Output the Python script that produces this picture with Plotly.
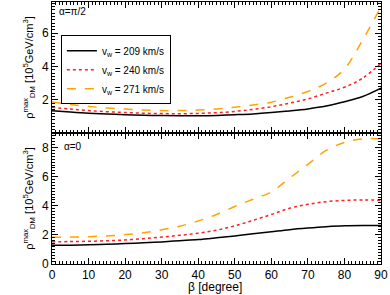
import plotly.graph_objects as go
from plotly.subplots import make_subplots

beta = [0, 5, 10, 15, 20, 25, 30, 35, 40, 45, 50, 55, 60, 65, 70, 75, 80, 85, 90]

# alpha = pi/2 (top panel)
top_209 = [1.34, 1.26, 1.19, 1.14, 1.10, 1.07, 1.05, 1.04, 1.04, 1.06, 1.10, 1.15, 1.23, 1.33, 1.45, 1.62, 1.88, 2.20, 2.70]
top_240 = [1.55, 1.44, 1.35, 1.28, 1.23, 1.19, 1.17, 1.16, 1.18, 1.22, 1.30, 1.42, 1.58, 1.80, 2.05, 2.40, 2.75, 3.30, 4.20]
top_271 = [1.86, 1.72, 1.60, 1.51, 1.44, 1.39, 1.35, 1.35, 1.38, 1.45, 1.55, 1.68, 1.85, 2.15, 2.50, 3.00, 3.85, 5.60, 7.60]

# alpha = 0 (bottom panel)
bot_209 = [1.28, 1.29, 1.32, 1.36, 1.40, 1.46, 1.52, 1.60, 1.68, 1.80, 1.93, 2.08, 2.22, 2.36, 2.47, 2.56, 2.62, 2.64, 2.64]
bot_240 = [1.53, 1.54, 1.56, 1.60, 1.65, 1.74, 1.85, 1.97, 2.12, 2.32, 2.62, 3.00, 3.40, 3.83, 4.10, 4.28, 4.37, 4.40, 4.38]
bot_271 = [1.84, 1.85, 1.88, 1.93, 2.02, 2.15, 2.35, 2.60, 2.95, 3.40, 3.95, 4.45, 4.95, 5.90, 6.85, 7.80, 8.35, 8.60, 8.60]

labels = ["v<sub>w</sub> = 209 km/s", "v<sub>w</sub> = 240 km/s", "v<sub>w</sub> = 271 km/s"]
colors = ["black", "#ff2020", "#ffa500"]
dashes = ["solid", "dot", "dash"]

x_ticks = [0, 10, 20, 30, 40, 50, 60, 70, 80, 90]
ytitle = "ρ<sup>max</sup><sub>DM</sub> [10<sup>5</sup>GeV/cm<sup>3</sup>]"
xtitle = "β [degree]"

fig = make_subplots(rows=2, cols=1, shared_xaxes=False, vertical_spacing=0)

for i, (t, b) in enumerate(zip([top_209, top_240, top_271], [bot_209, bot_240, bot_271])):
    fig.add_trace(go.Scatter(x=beta, y=t, mode="lines", name=labels[i],
                             line=dict(color=colors[i], dash=dashes[i], width=1.5, shape="spline")),
                  row=1, col=1)
    fig.add_trace(go.Scatter(x=beta, y=b, mode="lines", name=labels[i], showlegend=False,
                             line=dict(color=colors[i], dash=dashes[i], width=1.5, shape="spline")),
                  row=2, col=1)

fam = "Liberation Sans, Arial, sans-serif"
font = dict(family=fam, size=11, color="black")
tickfont = dict(family=fam, size=12, color="black")

axis_common = dict(showline=True, linecolor="black", linewidth=1, mirror="allticks",
                   ticks="inside", ticklen=6, tickwidth=1, tickcolor="black",
                   showgrid=False, zeroline=False, automargin=False,
                   tickfont=tickfont)

fig.update_xaxes(range=[0, 90], tickvals=x_ticks, minor=dict(dtick=1, ticklen=3, ticks="inside", tickcolor="black"),
                 ticklabelstandoff=0, **axis_common)
fig.update_xaxes(showticklabels=False, row=1, col=1)

fig.update_yaxes(dtick=2, minor=dict(dtick=0.2, ticklen=3, ticks="inside", tickcolor="black"), **axis_common)
fig.update_yaxes(range=[0, 7.88], tickvals=[2, 4, 6], row=1, col=1,
                 title=dict(text=ytitle, font=font, standoff=6))
fig.update_yaxes(range=[0, 9], tickvals=[0, 2, 4, 6, 8], row=2, col=1,
                 title=dict(text=ytitle, font=font, standoff=6))

fig.add_annotation(text=xtitle, xref="paper", yref="paper", x=0.495, y=-0.118,
                   xanchor="center", yanchor="bottom", showarrow=False, borderpad=0,
                   font=dict(family=fam, size=12, color="black"))
fig.add_annotation(text="α=π/2", xref="x domain", yref="y domain", x=0.015, y=0.93,
                   xanchor="left", yanchor="middle", showarrow=False,
                   font=dict(family=fam, size=10, color="black"))
fig.add_annotation(text="α=0", xref="x2 domain", yref="y2 domain", x=0.03, y=0.90,
                   xanchor="left", yanchor="middle", showarrow=False,
                   font=dict(family=fam, size=10, color="black"))

fig.update_layout(
    width=390, height=295,
    margin=dict(l=52, r=9, t=2, b=31),
    paper_bgcolor="white", plot_bgcolor="white",
    font=font,
    showlegend=True,
    legend=dict(x=0.027, y=0.741, xanchor="left", yanchor="middle",
                bgcolor="white", bordercolor="black", borderwidth=1,
                font=dict(family=fam, size=10, color="black"),
                tracegroupgap=0, itemwidth=30),
)

fig.write_html("out.html", config={"displayModeBar": False},
               post_script="document.body.style.margin='0';document.body.style.overflow='hidden';")
